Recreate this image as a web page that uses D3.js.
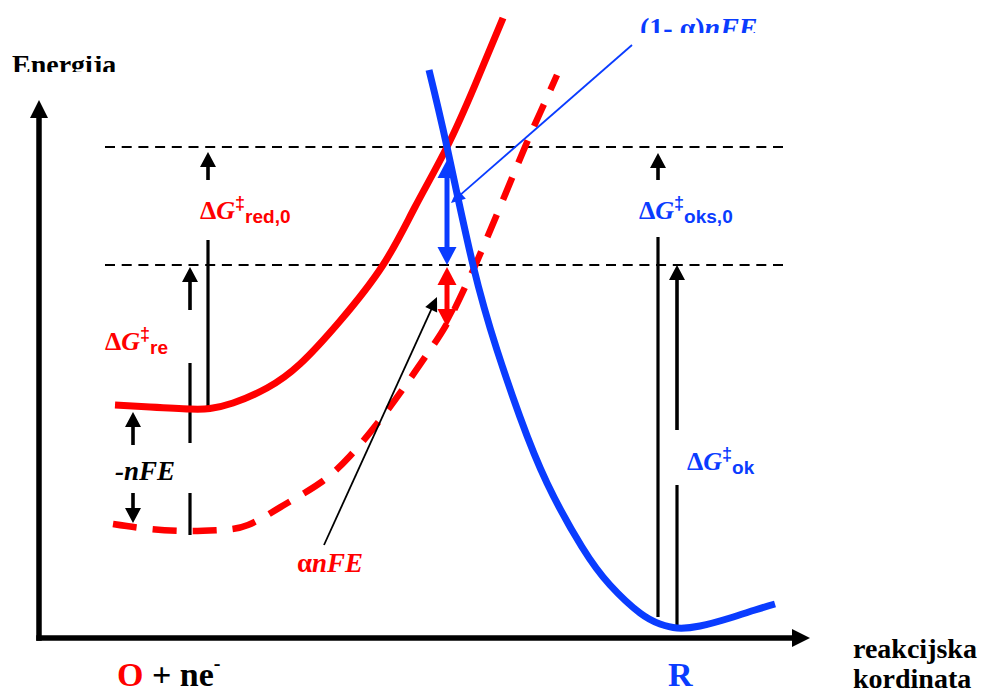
<!DOCTYPE html>
<html><head><meta charset="utf-8">
<script src="https://cdn.jsdelivr.net/npm/d3@7"></script>
<style>
html,body{margin:0;padding:0;background:#fff;overflow:hidden}
.serif{font-family:"Liberation Serif","Times New Roman","DejaVu Serif",serif;}
.sans{font-family:"Liberation Sans",Arial,"DejaVu Sans",sans-serif;}
</style>
</head><body>
<svg id="c" width="982" height="693"></svg>
<script>
// ---- data (reaction coordinate units, energy units) ----
const redSolid = [[76,233],[111,231],[151,229],[171,229.5],[194,235],[228,250],[261,274],[301,317],[344,373],[376,431],[408,491],[436,553],[464,620]];
const redDashed = [[74,114],[111,109],[151,107],[181,108],[209,113],[245,133],[281,155],[311,182],[341,218],[366,252],[391,288],[411,320],[428,355],[436,372],[461,431],[486,491],[501,525],[518,563]];
const blueCurve = [[390,568],[408,491],[434,373],[458,288],[481,221],[508,155],[543,91],[571,53],[601,25],[621,14],[638,10],[661,12],[691,20],[716,28],[736,34]];
const levels = [491, 373];
const levelSpan = [66, 744];
// black vertical arrows: [x, from, tip]
const blackArrows = [[169,458,486],[151,328,371],[94,193,226],[94,145,115],[619,458,485],[638,208,373]];
// plain vertical lines: [x, from, to]
const blackLines = [[169,398,228],[151,275,195],[151,145,103],[619,401,21],[638,153,11]];
// double arrows: [x, top, bottom]
const blueDouble = [408, 478, 373];
const redDouble = [408, 371, 311];
// pointer lines: [x0,y0,x1(tip),y1(tip)]
const blackPointer = [285,93,398,341];
const bluePointer = [593,593,412,435];

const svg = d3.select("#c");
const x = d3.scaleLinear().domain([0,771]).range([39,810]);
const y = d3.scaleLinear().domain([0,538]).range([638,100]);
const RED = "#ff0000", BLUE = "#0a3cff", BLACK = "#000";

function head(tx, ty, ux, uy, len, hw, color) {
  const bx = tx - ux*len, by = ty - uy*len;
  const px = -uy, py = ux;
  svg.append("path")
    .attr("d", `M${tx},${ty}L${bx+px*hw},${by+py*hw}L${bx-px*hw},${by-py*hw}Z`)
    .attr("fill", color);
}
function arrowSeg(x0,y0,x1,y1,color,w,len,hw){
  const dx=x1-x0, dy=y1-y0, L=Math.hypot(dx,dy), ux=dx/L, uy=dy/L;
  svg.append("line").attr("x1",x0).attr("y1",y0).attr("x2",x1-ux*len*0.8).attr("y2",y1-uy*len*0.8)
    .attr("stroke",color).attr("stroke-width",w);
  head(x1,y1,ux,uy,len,hw,color);
}

// dashed energy levels
levels.forEach(l => {
  svg.append("line").attr("x1",x(levelSpan[0])).attr("x2",x(levelSpan[1]))
    .attr("y1",y(l)).attr("y2",y(l))
    .attr("stroke",BLACK).attr("stroke-width",2).attr("stroke-dasharray","10,6.7");
});

// vertical lines
blackLines.forEach(d => {
  svg.append("line").attr("x1",x(d[0])).attr("x2",x(d[0])).attr("y1",y(d[1])).attr("y2",y(d[2]))
    .attr("stroke",BLACK).attr("stroke-width",3.2);
});
blackArrows.forEach(d => arrowSeg(x(d[0]),y(d[1]),x(d[0]),y(d[2]),BLACK,3.6,15,8));

// curves
const line = d3.line().x(d=>x(d[0])).y(d=>y(d[1])).curve(d3.curveNatural);
svg.append("path").attr("d",line(redDashed)).attr("fill","none").attr("stroke",RED)
  .attr("stroke-width",6.5).attr("stroke-dasharray","24,16");
svg.append("path").attr("d",line(redSolid)).attr("fill","none").attr("stroke",RED).attr("stroke-width",7);
svg.append("path").attr("d",line(blueCurve)).attr("fill","none").attr("stroke",BLUE).attr("stroke-width",7);

// double arrows
function doubleArrow(d,color){
  const X=x(d[0]), T=y(d[1]), B=y(d[2]);
  svg.append("line").attr("x1",X).attr("x2",X).attr("y1",T+12).attr("y2",B-12)
    .attr("stroke",color).attr("stroke-width",5);
  head(X,T,0,-1,18,9.5,color);
  head(X,B,0,1,18,9.5,color);
}
doubleArrow(blueDouble,BLUE);
doubleArrow(redDouble,RED);

// pointers
arrowSeg(x(blackPointer[0]),y(blackPointer[1]),x(blackPointer[2]),y(blackPointer[3]),BLACK,1.8,14,6.5);
arrowSeg(x(bluePointer[0]),y(bluePointer[1]),x(bluePointer[2]),y(bluePointer[3]),BLUE,1.8,14,6.5);

// axes
const axW = 5.5;
svg.append("line").attr("x1",x(0)).attr("x2",x(0)).attr("y1",y(0)+axW/2).attr("y2",y(538)+14)
  .attr("stroke",BLACK).attr("stroke-width",axW);
head(x(0),y(538),0,-1,18,9,BLACK);
svg.append("line").attr("x1",x(0)-axW/2).attr("x2",x(771)-14).attr("y1",y(0)).attr("y2",y(0))
  .attr("stroke",BLACK).attr("stroke-width",axW);
head(x(771),y(0),1,0,18,9,BLACK);

// labels
function dgLabel(xd, yd, sub, color){
  const t = svg.append("text").attr("x",x(xd)).attr("y",y(yd)).attr("fill",color).style("font-weight","bold");
  t.append("tspan").attr("class","serif").style("font-size","26px").text("Δ");
  t.append("tspan").attr("class","serif").style("font-size","26px").style("font-style","italic").text("G");
  t.append("tspan").attr("class","sans").style("font-size","18px").attr("dy",-10).text("‡");
  t.append("tspan").attr("class","sans").style("font-size","19px").attr("dy",14).text(sub);
}
dgLabel(161,419,"red,0",RED);
dgLabel(66,288,"re",RED);
dgLabel(600,419,"oks,0",BLUE);
dgLabel(648,168,"ok",BLUE);

function italLabel(xd,yd,pre,ital,color,size){
  const t = svg.append("text").attr("class","serif").attr("x",x(xd)).attr("y",y(yd)).attr("fill",color)
    .style("font-weight","bold").style("font-size",size+"px");
  t.append("tspan").text(pre);
  t.append("tspan").style("font-style","italic").text(ital);
  return t;
}
italLabel(76,158,"","-nFE",BLACK,27);
italLabel(258,66,"α","nFE",RED,27);

// clipped top labels
const defs = svg.append("defs");
defs.append("clipPath").attr("id","clipE").append("rect").attr("x",0).attr("y",56).attr("width",200).attr("height",16);
defs.append("clipPath").attr("id","clipA").append("rect").attr("x",600).attr("y",0).attr("width",250).attr("height",33);
svg.append("text").attr("class","serif").attr("x",x(-27)).attr("y",y(564)).attr("clip-path","url(#clipE)")
  .style("font-weight","bold").style("font-size","28px").attr("fill",BLACK).text("Energija");
italLabel(601,601,"(1- α)","nFE",BLUE,28).attr("clip-path","url(#clipA)");

// bottom labels
const ob = svg.append("text").attr("class","serif").attr("x",x(78)).attr("y",y(-48))
  .style("font-weight","bold").style("font-size","34px").attr("fill",BLACK);
ob.append("tspan").attr("fill",RED).text("O");
ob.append("tspan").text(" + ne");
ob.append("tspan").style("font-size","20px").attr("dy",-16).text("-");
svg.append("text").attr("class","serif").attr("x",x(629)).attr("y",y(-48))
  .style("font-weight","bold").style("font-size","34px").attr("fill",BLUE).text("R");
svg.append("text").attr("class","serif").attr("x",x(814)).attr("y",y(-20))
  .style("font-weight","bold").style("font-size","28px").attr("fill",BLACK).text("reakcijska");
svg.append("text").attr("class","serif").attr("x",x(814)).attr("y",y(-50))
  .style("font-weight","bold").style("font-size","28px").attr("fill",BLACK).text("kordinata");
</script>
</body></html>
